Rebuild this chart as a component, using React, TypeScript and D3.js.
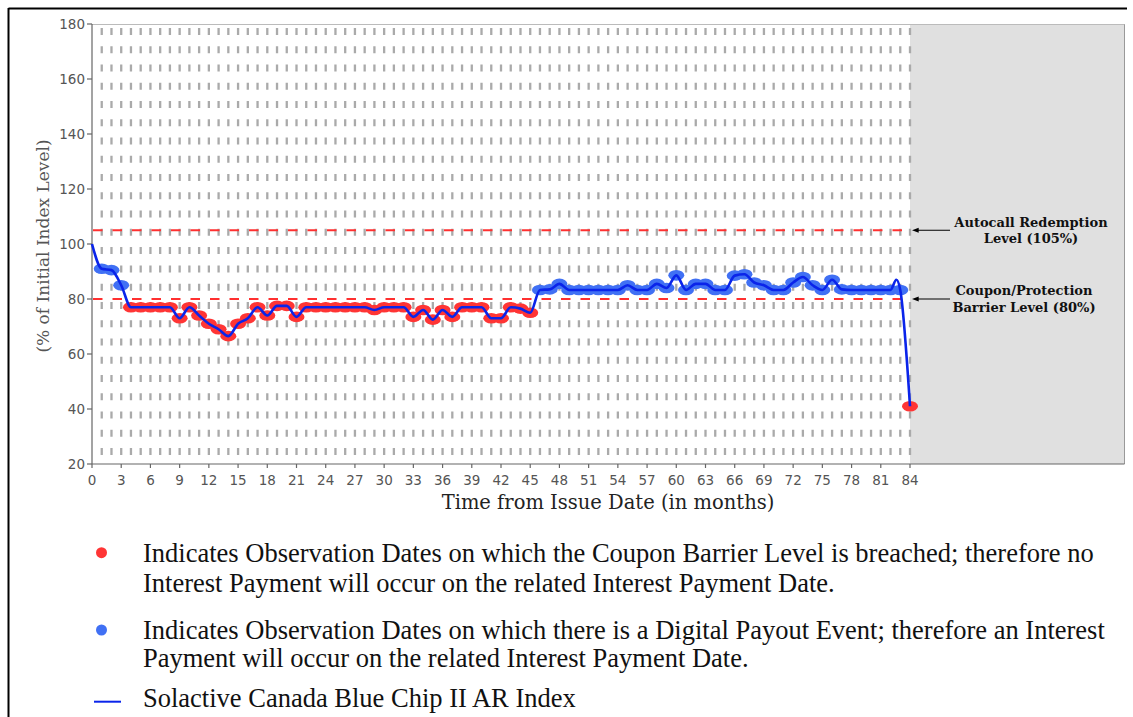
import React from 'react';
import * as d3 from 'd3';

// Observation values, months 1..84 (% of initial index level)
const obsValues: number[] = [
  91, 90.5, 85, 77, 77, 77, 77, 77, 73, 77,
  74, 71, 69, 66.5, 71, 73, 77, 74, 77.5, 77.5,
  73.5, 77, 77, 77, 77, 77, 77, 77, 76, 77,
  77, 77, 73.5, 76, 72.5, 76, 73.5, 77, 77, 77,
  73, 73, 77, 76.5, 75, 83.3, 83.5, 85.5, 83.3, 83.3,
  83.3, 83.3, 83.3, 83.3, 85, 83.3, 83.3, 85.5, 84, 88.6,
  83.3, 85.5, 85.5, 83.3, 83.3, 88.5, 89, 86, 85, 83.3,
  83.3, 86, 88, 85, 83.3, 87, 83.5, 83.3, 83.3, 83.3,
  83.3, 83.3, 83.3, 41,
];
const obsMonths: number[] = obsValues.map((_, i) => i + 1);

// Extra index-line points that are not observation dates
const lineExtraMonths: number[] = [0, 82.6];
const lineExtraValues: number[] = [100, 87];

const yTicks: number[] = [20, 40, 60, 80, 100, 120, 140, 160, 180];
const xTicks: number[] = [0, 3, 6, 9, 12, 15, 18, 21, 24, 27, 30, 33, 36, 39, 42, 45, 48, 51, 54, 57, 60, 63, 66, 69, 72, 75, 78, 81, 84];
const gridMonths: number[] = obsMonths;

const autocallLevel = 105;
const barrierLevel = 80;

export default function App() {
  const x = d3.scaleLinear().domain([0, 84]).range([92, 910]);
  const y = d3.scaleLinear().domain([20, 180]).range([464, 24]);

  const linePts = [
    ...obsMonths.map((m, i) => [m, obsValues[i]] as [number, number]),
    ...lineExtraMonths.map((m, i) => [m, lineExtraValues[i]] as [number, number]),
  ].sort((a, b) => a[0] - b[0]);

  const line = d3
    .line<[number, number]>()
    .x((d) => x(d[0]))
    .y((d) => y(d[1]))
    .curve(d3.curveMonotoneX);

  const axisColor = '#666';
  const tickColor = '#555';
  const serif = "'DejaVu Serif', serif";
  const sans = "'DejaVu Sans', sans-serif";
  const legendFont = "'Liberation Serif', 'Times New Roman', serif";

  return (
    <svg
      width={1133}
      height={717}
      style={{ position: 'absolute', left: 0, top: 0, background: '#fff' }}
    >
      <defs>
        <marker id="arr" viewBox="0 0 10 10" refX="1" refY="5" markerWidth="7" markerHeight="7" orient="auto-start-reverse">
          <path d="M0,1.5 L10,5 L0,8.5 z" fill="#000" />
        </marker>
      </defs>
      {/* outer frame */}
      <line x1={8.5} y1={8.5} x2={1127} y2={8.5} stroke="#000" strokeWidth={2} />
      <line x1={8.5} y1={8} x2={8.5} y2={717} stroke="#000" strokeWidth={2} />

      {/* grey region after maturity */}
      <rect x={x(84)} y={y(180)} width={1124 - x(84)} height={y(20) - y(180)} fill="#e0e0e0" />
      <line x1={1124.5} y1={y(180)} x2={1124.5} y2={y(20)} stroke="#999" strokeWidth={1} />
      <line x1={x(0)} y1={y(180) + 0.5} x2={1124.5} y2={y(180) + 0.5} stroke="#bbb" strokeWidth={1} />

      {/* vertical dashed grid lines */}
      {gridMonths.map((m) => (
        <line
          key={'g' + m}
          x1={x(m)}
          x2={x(m)}
          y1={28}
          y2={460}
          stroke="#aaaaaa"
          strokeWidth={2.3}
          strokeDasharray="7 11.26"
        />
      ))}

      {/* level lines */}
      {[autocallLevel, barrierLevel].map((lv) => (
        <line
          key={'lv' + lv}
          x1={x(0) + 1}
          x2={x(84)}
          y1={y(lv)}
          y2={y(lv)}
          stroke="#ff3030"
          strokeWidth={2}
          strokeDasharray="9.5 10"
        />
      ))}

      {/* axes */}
      <line x1={x(0)} x2={x(0)} y1={y(180)} y2={y(20)} stroke={axisColor} strokeWidth={1.2} />
      <line x1={x(0)} x2={1124.5} y1={y(20)} y2={y(20)} stroke={axisColor} strokeWidth={1.2} />
      {yTicks.map((t) => (
        <g key={'yt' + t}>
          <line x1={x(0) - 5} x2={x(0)} y1={y(t)} y2={y(t)} stroke={axisColor} strokeWidth={1.2} />
          <text x={x(0) - 7} y={y(t)} dy="0.36em" textAnchor="end" fontFamily={sans} fontSize={13.5} fill={tickColor}>
            {t}
          </text>
        </g>
      ))}
      {xTicks.map((t) => (
        <g key={'xt' + t}>
          <line x1={x(t)} x2={x(t)} y1={y(20)} y2={y(20) + 4} stroke={axisColor} strokeWidth={1.2} />
          <text x={x(t)} y={485} textAnchor="middle" fontFamily={sans} fontSize={13.5} fill={tickColor}>
            {t}
          </text>
        </g>
      ))}

      {/* axis titles */}
      <text
        transform={`translate(49,${(y(180) + y(20)) / 2 + 2}) rotate(-90)`}
        textAnchor="middle"
        fontFamily={serif}
        fontSize={17}
        fill="#555"
      >
        (% of Initial Index Level)
      </text>
      <text x={(x(0) + 1124) / 2} y={509} textAnchor="middle" fontFamily={serif} fontSize={19.5} fill="#222">
        Time from Issue Date (in months)
      </text>

      {/* observation dots */}
      {obsMonths.map((m, i) => (
        <ellipse
          key={'d' + m}
          cx={x(m)}
          cy={y(obsValues[i])}
          rx={8}
          ry={5.3}
          fill={obsValues[i] < barrierLevel ? '#ff3535' : '#4070f4'}
        />
      ))}

      {/* index line */}
      <path d={line(linePts) || ''} fill="none" stroke="#0a24ea" strokeWidth={2.6} />

      {/* annotations */}
      <line x1={950} x2={918} y1={y(autocallLevel)} y2={y(autocallLevel)} stroke="#000" strokeWidth={1} markerEnd="url(#arr)" />
      <line x1={950} x2={918} y1={y(barrierLevel)} y2={y(barrierLevel)} stroke="#000" strokeWidth={1} markerEnd="url(#arr)" />
      <text fontFamily={serif} fontWeight="bold" fontSize={13} fill="#111" textAnchor="middle">
        <tspan x={1031} y={227}>Autocall Redemption</tspan>
        <tspan x={1031} y={243}>Level (105%)</tspan>
      </text>
      <text fontFamily={serif} fontWeight="bold" fontSize={13} fill="#111" textAnchor="middle">
        <tspan x={1024} y={295}>Coupon/Protection</tspan>
        <tspan x={1024} y={312}>Barrier Level (80%)</tspan>
      </text>

      {/* legend */}
      <circle cx={101.5} cy={552.7} r={5.5} fill="#ff3535" />
      <text fontFamily={legendFont} fontSize={26.5} fill="#111">
        <tspan x={143} y={561.7}>Indicates Observation Dates on which the Coupon Barrier Level is breached; therefore no</tspan>
        <tspan x={143} y={591.7}>Interest Payment will occur on the related Interest Payment Date.</tspan>
      </text>
      <circle cx={101.5} cy={630} r={5.5} fill="#4070f4" />
      <text fontFamily={legendFont} fontSize={26.5} fill="#111">
        <tspan x={143} y={638.5}>Indicates Observation Dates on which there is a Digital Payout Event; therefore an Interest</tspan>
        <tspan x={143} y={666.5}>Payment will occur on the related Interest Payment Date.</tspan>
      </text>
      <line x1={94} x2={121} y1={701.7} y2={701.7} stroke="#0a24ea" strokeWidth={2} />
      <text x={143} y={707} fontFamily={legendFont} fontSize={26.5} fill="#111">
        Solactive Canada Blue Chip II AR Index
      </text>
    </svg>
  );
}
